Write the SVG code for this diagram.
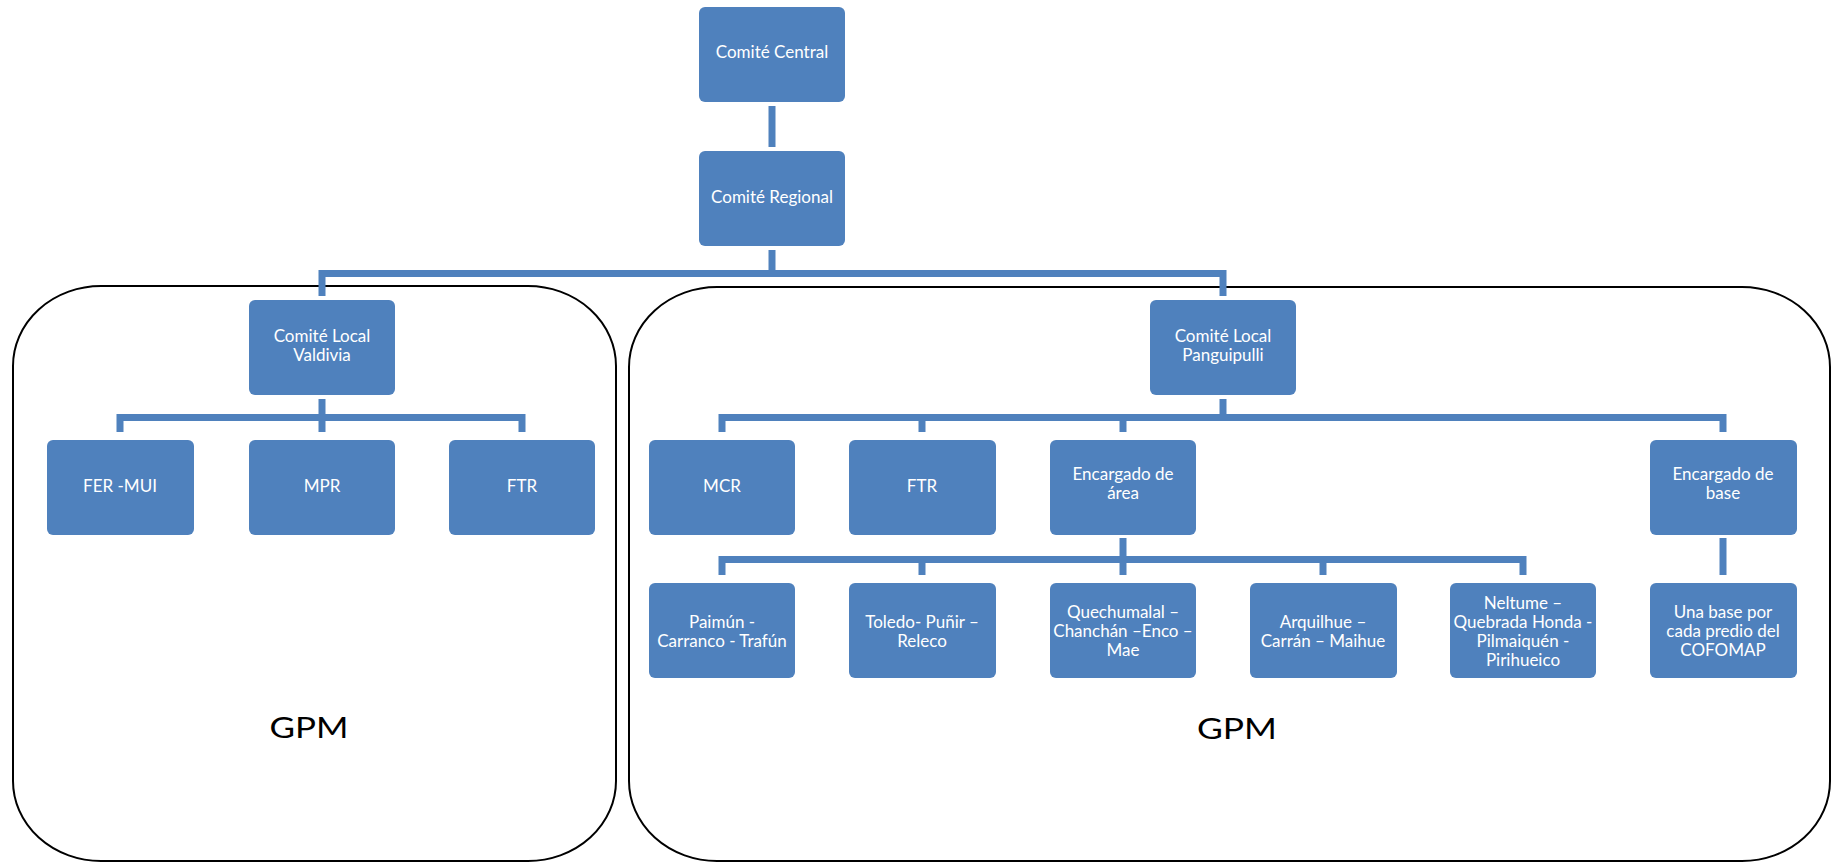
<svg xmlns="http://www.w3.org/2000/svg" width="1833" height="863" viewBox="0 0 1833 863">
<style>
.box{fill:#4F81BD;}
.t{font-family:Lato,"Liberation Sans",sans-serif;font-size:17px;fill:#ffffff;text-anchor:middle;}
.outline{fill:none;stroke:#000000;stroke-width:2;}
.conn{fill:none;stroke:#4F81BD;stroke-width:7;stroke-linejoin:miter;stroke-linecap:butt;}
.gpm{font-family:Lato,"Liberation Sans",sans-serif;font-size:29px;fill:#000000;text-anchor:middle;}
</style>
<rect width="1833" height="863" fill="#ffffff"/>
<g id="groups">
<g id="group-valdivia">
<rect class="outline" x="13" y="286" width="603" height="575" rx="88" ry="80"/>
<text class="gpm" x="309" y="738" textLength="79" lengthAdjust="spacingAndGlyphs">GPM</text>
</g>
<g id="group-panguipulli">
<rect class="outline" x="629" y="287" width="1201" height="574" rx="88" ry="80"/>
<text class="gpm" x="1237" y="739" textLength="80" lengthAdjust="spacingAndGlyphs">GPM</text>
</g>
</g>
<g id="connectors">
<path class="conn" d="M772,106 V147"/>
<path class="conn" d="M772,250 V273.5"/>
<path class="conn" d="M322,296 V273.5 H1223 V296"/>
<path class="conn" d="M322,399 V432"/>
<path class="conn" d="M120,432 V417.5 H522 V432"/>
<path class="conn" d="M1223,399 V417.5"/>
<path class="conn" d="M722,432 V417.5 H1723 V432"/>
<path class="conn" d="M922,417.5 V432"/>
<path class="conn" d="M1123,417.5 V432"/>
<path class="conn" d="M1123,538 V575"/>
<path class="conn" d="M722,575 V559.5 H1523 V575"/>
<path class="conn" d="M922,559.5 V575"/>
<path class="conn" d="M1323,559.5 V575"/>
<path class="conn" d="M1723,538 V575"/>
</g>
<g id="comite-central"><rect class="box" x="699" y="7" width="146" height="95" rx="6"/><text class="t" x="772" y="58">Comité Central</text></g>
<g id="comite-regional"><rect class="box" x="699" y="151" width="146" height="95" rx="6"/><text class="t" x="772" y="203">Comité Regional</text></g>
<g id="comite-local-valdivia"><rect class="box" x="249" y="300" width="146" height="95" rx="6"/><text class="t" x="322" y="342">Comité Local</text><text class="t" x="322" y="361">Valdivia</text></g>
<g id="comite-local-panguipulli"><rect class="box" x="1150" y="300" width="146" height="95" rx="6"/><text class="t" x="1223" y="342">Comité Local</text><text class="t" x="1223" y="361">Panguipulli</text></g>
<g id="fer-mui"><rect class="box" x="47" y="440" width="147" height="95" rx="6"/><text class="t" x="120" y="492">FER -MUI</text></g>
<g id="mpr"><rect class="box" x="249" y="440" width="146" height="95" rx="6"/><text class="t" x="322" y="492">MPR</text></g>
<g id="ftr-valdivia"><rect class="box" x="449" y="440" width="146" height="95" rx="6"/><text class="t" x="522" y="492">FTR</text></g>
<g id="mcr"><rect class="box" x="649" y="440" width="146" height="95" rx="6"/><text class="t" x="722" y="492">MCR</text></g>
<g id="ftr-panguipulli"><rect class="box" x="849" y="440" width="147" height="95" rx="6"/><text class="t" x="922" y="492">FTR</text></g>
<g id="encargado-area"><rect class="box" x="1050" y="440" width="146" height="95" rx="6"/><text class="t" x="1123" y="480">Encargado de</text><text class="t" x="1123" y="499">área</text></g>
<g id="encargado-base"><rect class="box" x="1650" y="440" width="147" height="95" rx="6"/><text class="t" x="1723" y="480">Encargado de</text><text class="t" x="1723" y="499">base</text></g>
<g id="paimun"><rect class="box" x="649" y="583" width="146" height="95" rx="6"/><text class="t" x="722" y="628">Paimún -</text><text class="t" x="722" y="647">Carranco - Trafún</text></g>
<g id="toledo"><rect class="box" x="849" y="583" width="147" height="95" rx="6"/><text class="t" x="922" y="628">Toledo- Puñir –</text><text class="t" x="922" y="647">Releco</text></g>
<g id="quechumalal"><rect class="box" x="1050" y="583" width="146" height="95" rx="6"/><text class="t" x="1123" y="618">Quechumalal –</text><text class="t" x="1123" y="637">Chanchán –Enco –</text><text class="t" x="1123" y="656">Mae</text></g>
<g id="arquilhue"><rect class="box" x="1250" y="583" width="147" height="95" rx="6"/><text class="t" x="1323" y="628">Arquilhue –</text><text class="t" x="1323" y="647">Carrán – Maihue</text></g>
<g id="neltume"><rect class="box" x="1450" y="583" width="146" height="95" rx="6"/><text class="t" x="1523" y="609">Neltume –</text><text class="t" x="1523" y="628">Quebrada Honda -</text><text class="t" x="1523" y="647">Pilmaiquén -</text><text class="t" x="1523" y="666">Pirihueico</text></g>
<g id="una-base"><rect class="box" x="1650" y="583" width="147" height="95" rx="6"/><text class="t" x="1723" y="618">Una base por</text><text class="t" x="1723" y="637">cada predio del</text><text class="t" x="1723" y="656">COFOMAP</text></g>
</svg>
